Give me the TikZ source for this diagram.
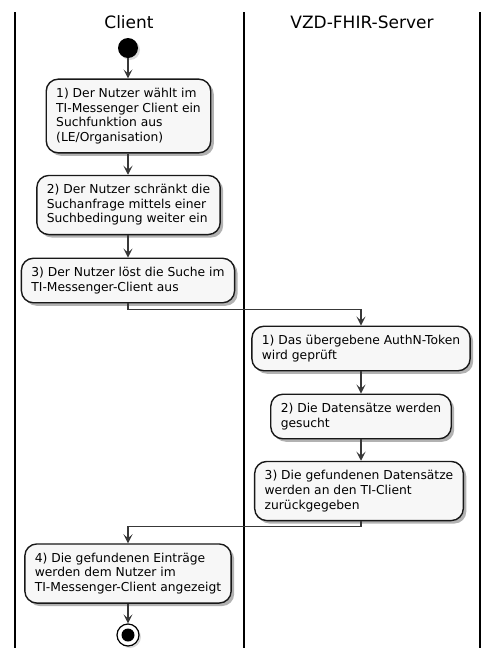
\documentclass[tikz,border=0pt]{standalone}
\usepackage{fontspec}
\setmainfont{DejaVu Sans}
\usetikzlibrary{arrows.meta,shadows}
\tikzset {>=Stealth}
\definecolor{boxfill}{HTML}{F7F7F7}
\definecolor{boxline}{HTML}{181818}
\definecolor{flowline}{HTML}{383838}
\tikzset{
  action/.style={draw=boxline, line width=1.4pt, fill=boxfill, rounded corners=12pt,
    align=left, inner xsep=10pt, inner ysep=9pt, font=\fontsize{12.3}{14.6}\selectfont,
    drop shadow={shadow xshift=3pt, shadow yshift=-3pt, opacity=0.3, fill=black}},
  flow/.style={draw=flowline, line width=1.2pt,
    -{Stealth[length=9pt,width=9pt,inset=4pt]}},
  lane/.style={line width=1.6pt, black},
  lanetitle/.style={font=\fontsize{17}{20}\selectfont}
}
\begin{document}
\begin{tikzpicture}[x=1pt,y=-1pt]
\useasboundingbox (0,0) rectangle (498,662);

% Swimlanes
\draw [lane] (15,12) -- (15,648);
\draw [lane] (244,12) -- (244,648);
\draw [lane] (480,12) -- (480,648);
\node [lanetitle] (t-client) at (129,22) {Client};
\node [lanetitle] (t-server) at (362,22) {VZD-FHIR-Server};

% Start
\fill [drop shadow={shadow xshift=2pt, shadow yshift=-2pt, opacity=0.3}] (128,48) circle (10pt);
\coordinate (start) at (128,58);

% Client actions
\node [action] (c1) at (128.5,116) {1) Der Nutzer wählt im\\TI-Messenger Client ein\\Suchfunktion aus\\(LE/Organisation)};
\node [action] (c2) at (128.5,205) {2) Der Nutzer schränkt die\\Suchanfrage mittels einer\\Suchbedingung weiter ein};
\node [action] (c3) at (128,280.5) {3) Der Nutzer löst die Suche im\\TI-Messenger-Client aus};

% Server actions
\node [action] (s1) at (361,348.5) {1) Das übergebene AuthN-Token\\wird geprüft};
\node [action] (s2) at (361,416.5) {2) Die Datensätze werden\\gesucht};
\node [action] (s3) at (359,491) {3) Die gefundenen Datensätze\\werden an den TI-Client\\zurückgegeben};

% Back to client
\node [action] (c4) at (128,573.5) {4) Die gefundenen Einträge\\werden dem Nutzer im\\TI-Messenger-Client angezeigt};

% End
\node [circle, draw=black, line width=1.2pt, fill=white, minimum size=22pt, inner sep=0pt,
  drop shadow={shadow xshift=2pt, shadow yshift=-2pt, opacity=0.3}] (stop) at (128,635) {};
\fill (stop.center) circle (6.5pt);

% Flow
\draw [flow] (start) -- (c1.north -| start);
\draw [flow] (c1.south -| start) -- (c2.north -| start);
\draw [flow] (c2.south -| start) -- (c3.north -| start);
\draw [flow] (c3.south -| start) -- ++(0,6) -| (s1.north);
\draw [flow] (s1.south) -- (s2.north);
\draw [flow] (s2.south) -- (s3.north -| s2.south);
\draw [flow] (s3.south -| s1.south) -- ++(0,5) -| (c4.north -| start);
\draw [flow] (c4.south -| start) -- (stop.north);
\end{tikzpicture}
\end{document}
